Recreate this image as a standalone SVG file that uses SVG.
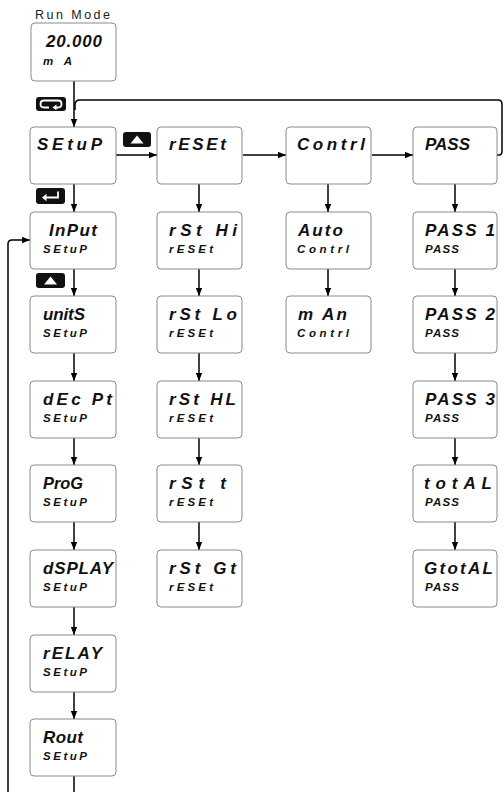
<svg xmlns="http://www.w3.org/2000/svg" width="504" height="792" viewBox="0 0 504 792">
<style>
.box{fill:#fff;stroke:#8a8a8a;stroke-width:1}
.big{font-family:"Liberation Sans","DejaVu Sans",sans-serif;font-weight:bold;font-style:italic;font-size:17px;fill:#111}
.sm{font-family:"Liberation Sans","DejaVu Sans",sans-serif;font-weight:bold;font-style:italic;font-size:11.5px;fill:#111}
.lbl{font-family:"Liberation Sans",Arial,sans-serif;font-size:12.5px;fill:#222}
.ln{fill:none;stroke:#000;stroke-width:1.5}
.btn{fill:#111}
.wsym{fill:none;stroke:#fff;stroke-width:1.8}
</style>
<defs>
<marker id="ah" viewBox="0 0 10 8" refX="10" refY="4" markerWidth="8" markerHeight="7" markerUnits="userSpaceOnUse" orient="auto">
<path d="M0,0 L10,4 L0,8 z" fill="#000"/>
</marker>
</defs>

<text class="lbl" x="35" y="19" textLength="75">Run Mode</text>

<g id="connectors">
<path class="ln" d="M74,81 V127" marker-end="url(#ah)"/>
<path class="ln" d="M497,155 H499 Q502,155 502,151 V104 Q502,100 498,100 H80 Q75,100 75,105 V110"/>
<path class="ln" d="M116,155 H157" marker-end="url(#ah)"/>
<path class="ln" d="M243,155 H286" marker-end="url(#ah)"/>
<path class="ln" d="M372,155 H413" marker-end="url(#ah)"/>
<path class="ln" d="M74,184 V212" marker-end="url(#ah)"/>
<path class="ln" d="M74,269 V296" marker-end="url(#ah)"/>
<path class="ln" d="M74,353 V381" marker-end="url(#ah)"/>
<path class="ln" d="M74,438 V465" marker-end="url(#ah)"/>
<path class="ln" d="M74,522 V550" marker-end="url(#ah)"/>
<path class="ln" d="M74,607 V635" marker-end="url(#ah)"/>
<path class="ln" d="M74,692 V719" marker-end="url(#ah)"/>
<path class="ln" d="M74,776 V794 H8 V244 Q8,240 12,240 H30" marker-end="url(#ah)"/>
<path class="ln" d="M199,184 V212" marker-end="url(#ah)"/>
<path class="ln" d="M199,269 V296" marker-end="url(#ah)"/>
<path class="ln" d="M199,353 V381" marker-end="url(#ah)"/>
<path class="ln" d="M199,438 V465" marker-end="url(#ah)"/>
<path class="ln" d="M199,522 V550" marker-end="url(#ah)"/>
<path class="ln" d="M328,184 V212" marker-end="url(#ah)"/>
<path class="ln" d="M328,269 V296" marker-end="url(#ah)"/>
<path class="ln" d="M455,184 V212" marker-end="url(#ah)"/>
<path class="ln" d="M455,269 V296" marker-end="url(#ah)"/>
<path class="ln" d="M455,353 V381" marker-end="url(#ah)"/>
<path class="ln" d="M455,438 V465" marker-end="url(#ah)"/>
<path class="ln" d="M455,522 V550" marker-end="url(#ah)"/>
</g>

<g id="icons">
<g id="btn-loop">
<rect class="btn" x="36" y="97" width="30" height="14" rx="3"/>
<path class="wsym" d="M49,107.5 H44 Q40.5,107.5 40.5,104 Q40.5,100.5 44,100.5 H58 Q61.5,100.5 61.5,104 Q61.5,107.5 58,107.5 H55"/>
<path d="M56.5,104.5 L52.5,107.5 L56.5,110.3 z" fill="#fff"/>
</g>
<g id="btn-up1">
<rect class="btn" x="123" y="132" width="28" height="15" rx="3"/>
<path d="M137,135.5 L130.5,143.5 H143.5 z" fill="#fff"/>
</g>
<g id="btn-enter">
<rect class="btn" x="36" y="188" width="29" height="16" rx="3"/>
<path class="wsym" d="M58,191.5 V197.5 H45"/>
<path d="M42,197.5 L46.5,193.8 V201.2 z" fill="#fff"/>
</g>
<g id="btn-up2">
<rect class="btn" x="36" y="273" width="29" height="15" rx="3"/>
<path d="M50.5,276.5 L44,284.5 H57 z" fill="#fff"/>
</g>
</g>

<g id="run-mode">
<rect class="box" x="31" y="23" width="85" height="58" rx="4"/>
<text class="big" x="46" y="47" textLength="56">20.000</text>
<text class="sm" x="43" y="65" textLength="29">mA</text>
</g>

<g id="setup"><rect class="box" x="30" y="127" width="86" height="57" rx="4"/><text class="big" x="37" y="150" textLength="65">SEtuP</text></g>
<g id="input"><rect class="box" x="30" y="212" width="86" height="57" rx="4"/><text class="big" x="49" y="236" textLength="48">InPut</text><text class="sm" x="43" y="253" textLength="44">SEtuP</text></g>
<g id="units"><rect class="box" x="30" y="296" width="86" height="57" rx="4"/><text class="big" x="43" y="320" textLength="42">unitS</text><text class="sm" x="43" y="337" textLength="44">SEtuP</text></g>
<g id="decpt"><rect class="box" x="30" y="381" width="86" height="57" rx="4"/><text class="big" x="43" y="405" textLength="69">dEc Pt</text><text class="sm" x="43" y="422" textLength="44">SEtuP</text></g>
<g id="prog"><rect class="box" x="30" y="465" width="86" height="57" rx="4"/><text class="big" x="43" y="489" textLength="40" lengthAdjust="spacingAndGlyphs">ProG</text><text class="sm" x="43" y="506" textLength="44">SEtuP</text></g>
<g id="display"><rect class="box" x="30" y="550" width="86" height="57" rx="4"/><text class="big" x="43" y="574" textLength="70">dSPLAY</text><text class="sm" x="43" y="591" textLength="44">SEtuP</text></g>
<g id="relay"><rect class="box" x="30" y="635" width="86" height="57" rx="4"/><text class="big" x="43" y="659" textLength="59">rELAY</text><text class="sm" x="43" y="676" textLength="44">SEtuP</text></g>
<g id="rout"><rect class="box" x="30" y="719" width="86" height="57" rx="4"/><text class="big" x="43" y="743" textLength="40">Rout</text><text class="sm" x="43" y="760" textLength="44">SEtuP</text></g>

<g id="reset"><rect class="box" x="157" y="127" width="85" height="57" rx="4"/><text class="big" x="169" y="150" textLength="57">rESEt</text></g>
<g id="rst-hi"><rect class="box" x="157" y="212" width="85" height="57" rx="4"/><text class="big" x="169" y="236" textLength="68">rSt Hi</text><text class="sm" x="169" y="253" textLength="44">rESEt</text></g>
<g id="rst-lo"><rect class="box" x="157" y="296" width="85" height="57" rx="4"/><text class="big" x="169" y="320" textLength="68">rSt Lo</text><text class="sm" x="169" y="337" textLength="44">rESEt</text></g>
<g id="rst-hl"><rect class="box" x="157" y="381" width="85" height="57" rx="4"/><text class="big" x="169" y="405" textLength="67">rSt HL</text><text class="sm" x="169" y="422" textLength="44">rESEt</text></g>
<g id="rst-t"><rect class="box" x="157" y="465" width="85" height="57" rx="4"/><text class="big" x="169" y="489" textLength="57">rSt t</text><text class="sm" x="169" y="506" textLength="44">rESEt</text></g>
<g id="rst-gt"><rect class="box" x="157" y="550" width="85" height="57" rx="4"/><text class="big" x="169" y="574" textLength="67">rSt Gt</text><text class="sm" x="169" y="591" textLength="44">rESEt</text></g>

<g id="contrl"><rect class="box" x="286" y="127" width="85" height="57" rx="4"/><text class="big" x="297" y="150" textLength="68">Contrl</text></g>
<g id="auto"><rect class="box" x="286" y="212" width="85" height="57" rx="4"/><text class="big" x="298" y="236" textLength="45">Auto</text><text class="sm" x="297" y="253" textLength="52">Contrl</text></g>
<g id="man"><rect class="box" x="286" y="296" width="85" height="57" rx="4"/><text class="big" x="298" y="320" textLength="49">m An</text><text class="sm" x="297" y="337" textLength="52">Contrl</text></g>

<g id="pass"><rect class="box" x="413" y="127" width="84" height="57" rx="4"/><text class="big" x="425" y="150" textLength="45">PASS</text></g>
<g id="pass1"><rect class="box" x="413" y="212" width="84" height="57" rx="4"/><text class="big" x="425" y="236" textLength="70">PASS 1</text><text class="sm" x="425" y="253" textLength="34">PASS</text></g>
<g id="pass2"><rect class="box" x="413" y="296" width="84" height="57" rx="4"/><text class="big" x="425" y="320" textLength="70">PASS 2</text><text class="sm" x="425" y="337" textLength="34">PASS</text></g>
<g id="pass3"><rect class="box" x="413" y="381" width="84" height="57" rx="4"/><text class="big" x="425" y="405" textLength="70">PASS 3</text><text class="sm" x="425" y="422" textLength="34">PASS</text></g>
<g id="total"><rect class="box" x="413" y="465" width="84" height="57" rx="4"/><text class="big" x="424" y="489" textLength="68">totAL</text><text class="sm" x="425" y="506" textLength="34">PASS</text></g>
<g id="gtotal"><rect class="box" x="413" y="550" width="84" height="57" rx="4"/><text class="big" x="424" y="574" textLength="69">GtotAL</text><text class="sm" x="425" y="591" textLength="34">PASS</text></g>
</svg>
